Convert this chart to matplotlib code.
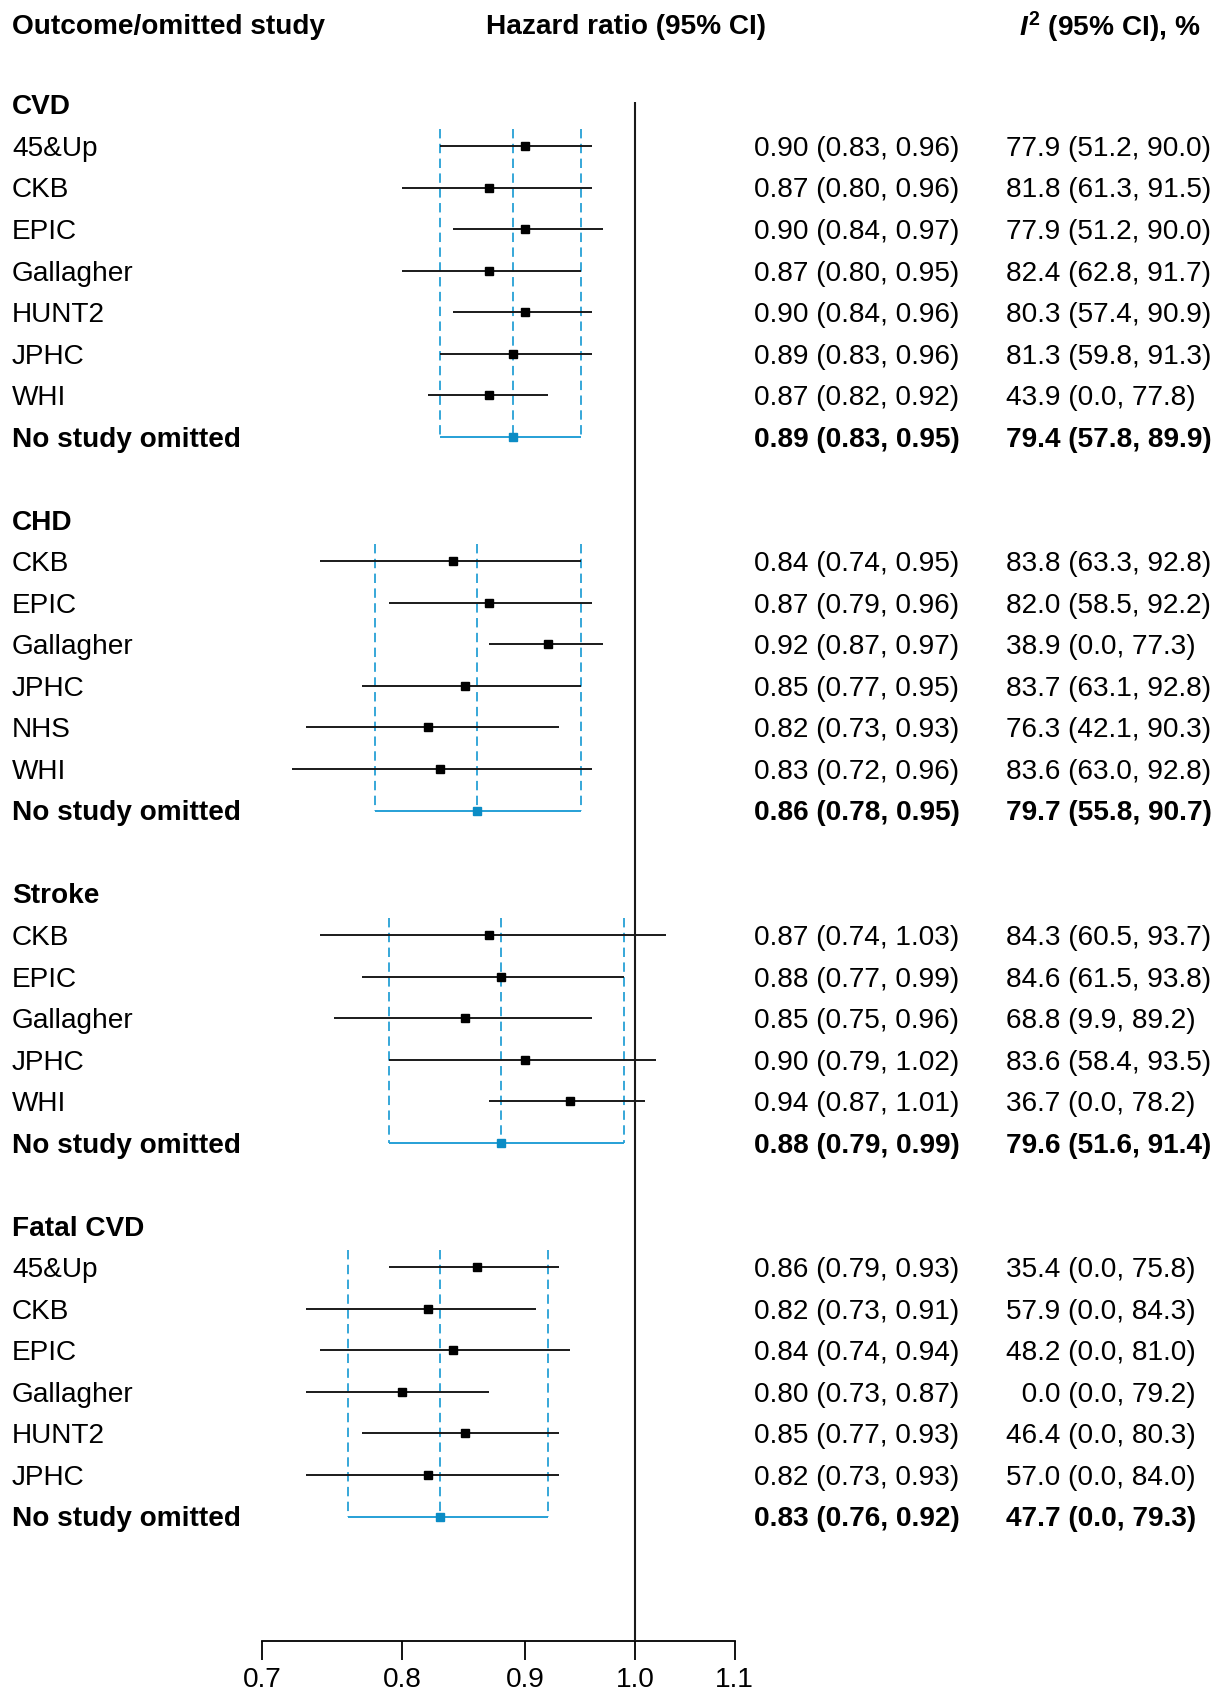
import numpy as np
import matplotlib
matplotlib.use("Agg")
import matplotlib.pyplot as plt

plt.rcParams['font.family'] = ['Liberation Sans', 'DejaVu Sans']
plt.rcParams['mathtext.fontset'] = 'custom'
plt.rcParams['mathtext.it'] = 'Liberation Sans:italic:bold'
plt.rcParams['mathtext.rm'] = 'Liberation Sans:bold'
plt.rcParams['mathtext.bf'] = 'Liberation Sans:bold'

# ---------------- data ----------------
groups = ["CVD", "CHD", "Stroke", "Fatal CVD"]

cvd_studies = ["45&Up", "CKB", "EPIC", "Gallagher", "HUNT2", "JPHC", "WHI"]
cvd_hr = [0.90, 0.87, 0.90, 0.87, 0.90, 0.89, 0.87]
cvd_lo = [0.83, 0.80, 0.84, 0.80, 0.84, 0.83, 0.82]
cvd_hi = [0.96, 0.96, 0.97, 0.95, 0.96, 0.96, 0.92]
cvd_i2 = [77.9, 81.8, 77.9, 82.4, 80.3, 81.3, 43.9]
cvd_i2lo = [51.2, 61.3, 51.2, 62.8, 57.4, 59.8, 0.0]
cvd_i2hi = [90.0, 91.5, 90.0, 91.7, 90.9, 91.3, 77.8]
cvd_pool = (0.89, 0.83, 0.95, 79.4, 57.8, 89.9)

chd_studies = ["CKB", "EPIC", "Gallagher", "JPHC", "NHS", "WHI"]
chd_hr = [0.84, 0.87, 0.92, 0.85, 0.82, 0.83]
chd_lo = [0.74, 0.79, 0.87, 0.77, 0.73, 0.72]
chd_hi = [0.95, 0.96, 0.97, 0.95, 0.93, 0.96]
chd_i2 = [83.8, 82.0, 38.9, 83.7, 76.3, 83.6]
chd_i2lo = [63.3, 58.5, 0.0, 63.1, 42.1, 63.0]
chd_i2hi = [92.8, 92.2, 77.3, 92.8, 90.3, 92.8]
chd_pool = (0.86, 0.78, 0.95, 79.7, 55.8, 90.7)

stroke_studies = ["CKB", "EPIC", "Gallagher", "JPHC", "WHI"]
stroke_hr = [0.87, 0.88, 0.85, 0.90, 0.94]
stroke_lo = [0.74, 0.77, 0.75, 0.79, 0.87]
stroke_hi = [1.03, 0.99, 0.96, 1.02, 1.01]
stroke_i2 = [84.3, 84.6, 68.8, 83.6, 36.7]
stroke_i2lo = [60.5, 61.5, 9.9, 58.4, 0.0]
stroke_i2hi = [93.7, 93.8, 89.2, 93.5, 78.2]
stroke_pool = (0.88, 0.79, 0.99, 79.6, 51.6, 91.4)

fcvd_studies = ["45&Up", "CKB", "EPIC", "Gallagher", "HUNT2", "JPHC"]
fcvd_hr = [0.86, 0.82, 0.84, 0.80, 0.85, 0.82]
fcvd_lo = [0.79, 0.73, 0.74, 0.73, 0.77, 0.73]
fcvd_hi = [0.93, 0.91, 0.94, 0.87, 0.93, 0.93]
fcvd_i2 = [35.4, 57.9, 48.2, 0.0, 46.4, 57.0]
fcvd_i2lo = [0.0, 0.0, 0.0, 0.0, 0.0, 0.0]
fcvd_i2hi = [75.8, 84.3, 81.0, 79.2, 80.3, 84.0]
fcvd_pool = (0.83, 0.76, 0.92, 47.7, 0.0, 79.3)

xticks = [0.7, 0.8, 0.9, 1.0, 1.1]
xticklabels = ["0.7", "0.8", "0.9", "1.0", "1.1"]

group_data = [
    (cvd_studies, cvd_hr, cvd_lo, cvd_hi, cvd_i2, cvd_i2lo, cvd_i2hi, cvd_pool),
    (chd_studies, chd_hr, chd_lo, chd_hi, chd_i2, chd_i2lo, chd_i2hi, chd_pool),
    (stroke_studies, stroke_hr, stroke_lo, stroke_hi, stroke_i2, stroke_i2lo, stroke_i2hi, stroke_pool),
    (fcvd_studies, fcvd_hr, fcvd_lo, fcvd_hi, fcvd_i2, fcvd_i2lo, fcvd_i2hi, fcvd_pool),
]

# ---------------- layout ----------------
W, H = 1223, 1691
X1 = 635.0      # pixel of HR = 1.0
PX_LN = 1045.0  # pixels per ln unit
Y0 = 104.5      # pixel of row 0
ROW = 41.53     # pixels per row

fig = plt.figure(figsize=(W / 100, H / 100), dpi=100)
ax = fig.add_axes([0, 0, 1, 1])
ax.set_xscale('log')
ax.set_xlim(np.exp(-X1 / PX_LN), np.exp((W - X1) / PX_LN))
ax.set_ylim((H - Y0) / ROW, -Y0 / ROW)

FS = 20.2
TOFF = 0.07   # small downward shift of text relative to marks (rows)
blue_line = '#26a0d6'
blue_mark = '#0b8cc5'
ytr = ax.get_yaxis_transform()

def fx(px):
    return px / W

X_LABEL, X_HR, X_I2 = 12, 754, 1006

def fmt_hr(e, l, h):
    return f"{e:.2f} ({l:.2f}, {h:.2f})"

def fmt_i2(e, l, h):
    s = f"{e:.1f}"
    if len(s) < 4:
        s = "\u2007" + s
    return f"{s} ({l:.1f}, {h:.1f})"

def put(xpx, row, s, bold=False, ha='left'):
    ax.text(fx(xpx), row + TOFF, s, transform=ytr, ha=ha, va='center',
            fontsize=FS, fontweight='bold' if bold else 'normal')

# headers
put(12, -1.93, "Outcome/omitted study", bold=True)
put(626, -1.93, "Hazard ratio (95% CI)", bold=True, ha='center')
put(1019, -1.93, r"$I^{2}$ (95% CI), %", bold=True)

r = 0
axis_row = (1641 - Y0) / ROW
for gname, (studies, hr, lo, hi, i2, i2lo, i2hi, pool) in zip(groups, group_data):
    put(X_LABEL, r, gname, bold=True)
    rows = [r + 1 + k for k in range(len(studies))]
    prow = r + 1 + len(studies)
    pe, pl, ph, pi2, pi2l, pi2h = pool
    # dashed reference lines for pooled estimate
    ax.vlines([pl, pe, ph], rows[0] - 0.42, prow, colors=blue_line, lw=1.3,
              linestyles=(0, (5.2, 3.0)), zorder=2)
    ax.hlines(prow, pl, ph, colors=blue_line, lw=1.4, zorder=2)
    ax.plot([pe], [prow], marker='s', ms=5.3, color=blue_mark, ls='none', zorder=4)
    for k, row in enumerate(rows):
        ax.hlines(row, lo[k], hi[k], colors='#1a1a1a', lw=1.4, zorder=3)
        ax.plot([hr[k]], [row], marker='s', ms=5.3, color='black', ls='none', zorder=4)
        put(X_LABEL, row, studies[k])
        put(X_HR, row, fmt_hr(hr[k], lo[k], hi[k]))
        put(X_I2, row, fmt_i2(i2[k], i2lo[k], i2hi[k]))
    put(X_LABEL, prow, "No study omitted", bold=True)
    put(X_HR, prow, fmt_hr(pe, pl, ph), bold=True)
    put(X_I2, prow, fmt_i2(pi2, pi2l, pi2h), bold=True)
    r = prow + 2

# null line
ax.vlines(1.0, -0.05, axis_row, colors='#1a1a1a', lw=1.5, zorder=3)

# axis
for s in ['top', 'left', 'right']:
    ax.spines[s].set_visible(False)
ax.spines['bottom'].set_position(('data', axis_row))
ax.spines['bottom'].set_bounds(0.7, 1.1)
ax.spines['bottom'].set_linewidth(1.3)
ax.set_yticks([])
ax.xaxis.set_minor_locator(matplotlib.ticker.NullLocator())
ax.set_xticks(xticks)
ax.set_xticklabels(xticklabels)
ax.tick_params(axis='x', direction='out', length=14, width=1.3, labelsize=FS, pad=5)
ax.patch.set_visible(False)

fig.savefig("out.png", dpi=100)
